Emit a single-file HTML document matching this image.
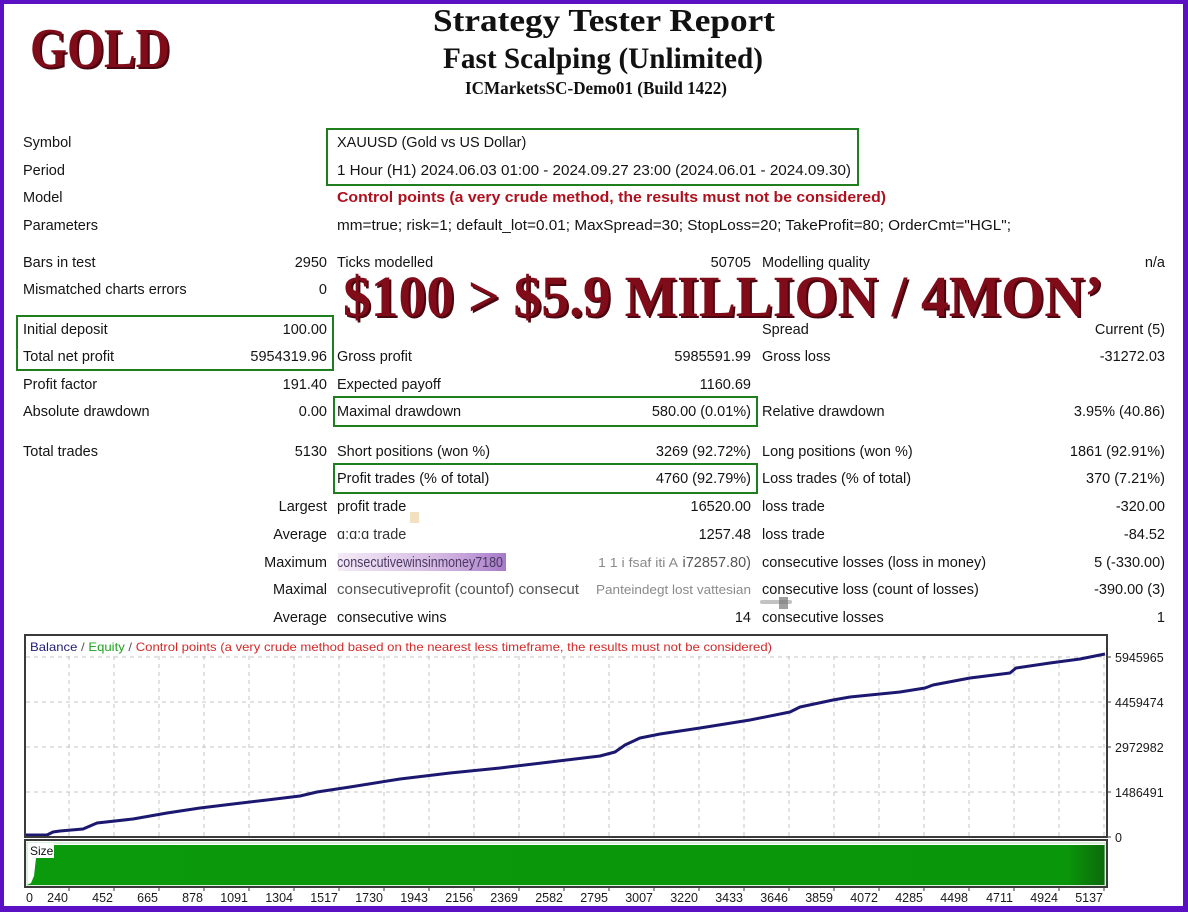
<!DOCTYPE html>
<html>
<head>
<meta charset="utf-8">
<style>
html,body{margin:0;padding:0;background:#fff;}
svg{display:block;}
.t{font-family:"Liberation Sans",Arial,sans-serif;font-size:14.5px;fill:#141414;}
.r{text-anchor:end;}
.ser{font-family:"Liberation Serif","Times New Roman",serif;font-weight:bold;}
.ax{font-family:"Liberation Sans",Arial,sans-serif;font-size:12.5px;fill:#1a1a1a;}
</style>
</head>
<body>
<svg width="1188" height="912" viewBox="0 0 1188 912" xmlns="http://www.w3.org/2000/svg">
<defs>
<linearGradient id="gr" x1="0" y1="0" x2="1" y2="0">
<stop offset="0" stop-color="#0b9a0b"/>
<stop offset="0.965" stop-color="#0a960a"/>
<stop offset="1" stop-color="#0b6a0b"/>
</linearGradient>
<linearGradient id="pg" x1="0" y1="0" x2="1" y2="0">
<stop offset="0" stop-color="#b070c8" stop-opacity="0.15"/>
<stop offset="0.6" stop-color="#a060c0" stop-opacity="0.45"/>
<stop offset="1" stop-color="#8040b0" stop-opacity="0.7"/>
</linearGradient>
</defs>
<rect x="0" y="0" width="1188" height="912" fill="#fff"/>

<!-- header -->
<text class="ser" x="433" y="31" font-size="32" fill="#111" textLength="342" lengthAdjust="spacingAndGlyphs">Strategy Tester Report</text>
<text class="ser" x="443" y="68" font-size="30" fill="#111" textLength="320" lengthAdjust="spacingAndGlyphs">Fast Scalping (Unlimited)</text>
<text class="ser" x="465" y="94" font-size="18" fill="#111" textLength="262" lengthAdjust="spacingAndGlyphs">ICMarketsSC-Demo01 (Build 1422)</text>

<!-- GOLD -->
<text class="ser" x="32" y="69" font-size="56" fill="#4a0610" textLength="140" lengthAdjust="spacingAndGlyphs">GOLD</text>
<text class="ser" x="30" y="67" font-size="56" fill="#7f0c18" textLength="140" lengthAdjust="spacingAndGlyphs">GOLD</text>

<!-- green boxes -->
<g fill="none" stroke="#1f7f1f" stroke-width="2">
<rect x="327" y="129" width="531" height="56"/>
<rect x="17" y="316" width="316" height="54"/>
<rect x="334" y="397" width="423" height="29"/>
<rect x="334" y="464" width="423" height="29"/>
</g>

<!-- rows -->
<text class="t" x="23" y="147">Symbol</text>
<text class="t" x="337" y="147">XAUUSD (Gold vs US Dollar)</text>
<text class="t" x="23" y="175">Period</text>
<text class="t" x="337" y="175" textLength="514" lengthAdjust="spacingAndGlyphs">1 Hour (H1) 2024.06.03 01:00 - 2024.09.27 23:00 (2024.06.01 - 2024.09.30)</text>
<text class="t" x="23" y="202">Model</text>
<text class="t" x="337" y="202" style="font-weight:bold;fill:#b0101e" textLength="549" lengthAdjust="spacingAndGlyphs">Control points (a very crude method, the results must not be considered)</text>
<text class="t" x="23" y="230">Parameters</text>
<text class="t" x="337" y="230" textLength="674" lengthAdjust="spacingAndGlyphs">mm=true; risk=1; default_lot=0.01; MaxSpread=30; StopLoss=20; TakeProfit=80; OrderCmt="HGL";</text>

<text class="t" x="23" y="267">Bars in test</text>
<text class="t r" x="327" y="267">2950</text>
<text class="t" x="337" y="267">Ticks modelled</text>
<text class="t r" x="751" y="267">50705</text>
<text class="t" x="762" y="267">Modelling quality</text>
<text class="t r" x="1165" y="267">n/a</text>

<text class="t" x="23" y="294">Mismatched charts errors</text>
<text class="t r" x="327" y="294">0</text>

<text class="t" x="23" y="334">Initial deposit</text>
<text class="t r" x="327" y="334">100.00</text>
<text class="t" x="762" y="334">Spread</text>
<text class="t r" x="1165" y="334">Current (5)</text>

<text class="t" x="23" y="361">Total net profit</text>
<text class="t r" x="327" y="361">5954319.96</text>
<text class="t" x="337" y="361">Gross profit</text>
<text class="t r" x="751" y="361">5985591.99</text>
<text class="t" x="762" y="361">Gross loss</text>
<text class="t r" x="1165" y="361">-31272.03</text>

<text class="t" x="23" y="389">Profit factor</text>
<text class="t r" x="327" y="389">191.40</text>
<text class="t" x="337" y="389">Expected payoff</text>
<text class="t r" x="751" y="389">1160.69</text>

<text class="t" x="23" y="416">Absolute drawdown</text>
<text class="t r" x="327" y="416">0.00</text>
<text class="t" x="337" y="416">Maximal drawdown</text>
<text class="t r" x="751" y="416">580.00 (0.01%)</text>
<text class="t" x="762" y="416">Relative drawdown</text>
<text class="t r" x="1165" y="416">3.95% (40.86)</text>

<text class="t" x="23" y="456">Total trades</text>
<text class="t r" x="327" y="456">5130</text>
<text class="t" x="337" y="456">Short positions (won %)</text>
<text class="t r" x="751" y="456">3269 (92.72%)</text>
<text class="t" x="762" y="456">Long positions (won %)</text>
<text class="t r" x="1165" y="456">1861 (92.91%)</text>

<text class="t" x="337" y="483">Profit trades (% of total)</text>
<text class="t r" x="751" y="483">4760 (92.79%)</text>
<text class="t" x="762" y="483">Loss trades (% of total)</text>
<text class="t r" x="1165" y="483">370 (7.21%)</text>

<text class="t r" x="327" y="511">Largest</text>
<text class="t" x="337" y="511">profit trade</text>
<text class="t r" x="751" y="511">16520.00</text>
<text class="t" x="762" y="511">loss trade</text>
<text class="t r" x="1165" y="511">-320.00</text>

<rect x="410" y="512" width="9" height="11" fill="#f0d8b0" opacity="0.8"/>
<text class="t r" x="327" y="539">Average</text>
<text class="t" x="337" y="539" style="fill:#333">ɑ:ɑ:ɑ trade</text>
<text class="t r" x="751" y="539">1257.48</text>
<text class="t" x="762" y="539">loss trade</text>
<text class="t r" x="1165" y="539">-84.52</text>

<rect x="338" y="553" width="168" height="18" fill="url(#pg)"/>
<text class="t r" x="327" y="567">Maximum</text>
<text class="t" x="337" y="567" style="fill:#4a3a62" textLength="166" lengthAdjust="spacingAndGlyphs">consecutivewinsinmoney7180</text>
<text class="t" x="598" y="567" style="fill:#8a8a8a;font-size:13px" textLength="80" lengthAdjust="spacingAndGlyphs">1 1 i fsaf iti A</text>
<text class="t r" x="751" y="567" style="fill:#555">i72857.80)</text>
<text class="t" x="762" y="567">consecutive losses (loss in money)</text>
<text class="t r" x="1165" y="567">5 (-330.00)</text>

<text class="t r" x="327" y="594">Maximal</text>
<text class="t" x="337" y="594" style="fill:#555" textLength="242" lengthAdjust="spacingAndGlyphs">consecutiveprofit (countof) consecut</text>
<text class="t" x="596" y="594" style="fill:#8a8a8a;font-size:13px" textLength="155" lengthAdjust="spacingAndGlyphs">Panteindegt lost vattesian</text>
<text class="t" x="762" y="594">consecutive loss (count of losses)</text>
<text class="t r" x="1165" y="594">-390.00 (3)</text>

<text class="t r" x="327" y="622">Average</text>
<text class="t" x="337" y="622">consecutive wins</text>
<rect x="760" y="600" width="32" height="4" rx="2" fill="#999" opacity="0.6"/>
<rect x="779" y="597" width="9" height="12" fill="#777" opacity="0.7"/>
<text class="t r" x="751" y="622">14</text>
<text class="t" x="762" y="622">consecutive losses</text>
<text class="t r" x="1165" y="622">1</text>

<!-- slogan -->
<text class="ser" x="345" y="318" font-size="58" fill="#4a0610" textLength="760" lengthAdjust="spacingAndGlyphs">$100 &gt; $5.9 MILLION / 4MON’</text>
<text class="ser" x="343" y="316" font-size="58" fill="#7f0c18" textLength="760" lengthAdjust="spacingAndGlyphs">$100 &gt; $5.9 MILLION / 4MON’</text>

<!-- chart -->
<g stroke="#c4c4c4" stroke-width="1" stroke-dasharray="4,4">
<line x1="26" y1="657" x2="1106" y2="657"/>
<line x1="26" y1="702" x2="1106" y2="702"/>
<line x1="26" y1="747" x2="1106" y2="747"/>
<line x1="26" y1="792" x2="1106" y2="792"/>
<line x1="69" y1="656" x2="69" y2="837"/><line x1="114" y1="656" x2="114" y2="837"/><line x1="159" y1="656" x2="159" y2="837"/><line x1="204" y1="656" x2="204" y2="837"/><line x1="249" y1="656" x2="249" y2="837"/><line x1="294" y1="656" x2="294" y2="837"/><line x1="339" y1="656" x2="339" y2="837"/><line x1="384" y1="656" x2="384" y2="837"/><line x1="429" y1="656" x2="429" y2="837"/><line x1="474" y1="656" x2="474" y2="837"/><line x1="519" y1="656" x2="519" y2="837"/><line x1="564" y1="656" x2="564" y2="837"/><line x1="609" y1="656" x2="609" y2="837"/><line x1="654" y1="656" x2="654" y2="837"/><line x1="699" y1="656" x2="699" y2="837"/><line x1="744" y1="656" x2="744" y2="837"/><line x1="789" y1="656" x2="789" y2="837"/><line x1="834" y1="656" x2="834" y2="837"/><line x1="879" y1="656" x2="879" y2="837"/><line x1="924" y1="656" x2="924" y2="837"/><line x1="969" y1="656" x2="969" y2="837"/><line x1="1014" y1="656" x2="1014" y2="837"/><line x1="1059" y1="656" x2="1059" y2="837"/><line x1="1104" y1="656" x2="1104" y2="837"/>
</g>

<text x="30" y="651" font-family="Liberation Sans, Arial, sans-serif" font-size="12" textLength="742" lengthAdjust="spacingAndGlyphs"><tspan fill="#1e1e78">Balance</tspan><tspan fill="#555"> / </tspan><tspan fill="#20a020">Equity</tspan><tspan fill="#555"> / </tspan><tspan fill="#d22a2a">Control points (a very crude method based on the nearest less timeframe, the results must not be considered)</tspan></text>

<polyline fill="none" stroke="#1c1870" stroke-width="3" stroke-linejoin="round" points="25,835 47,835 53,832 60,831 83,829 90,826 97,823 133,819 167,813 200,808 233,804 267,800 300,796 317,792 350,787 400,779 450,773 500,768 550,762 600,756 615,752 625,745 640,738 660,734 700,728 750,720 790,712 800,707 833,700 850,697 900,692 925,688 933,685 970,678 1010,673 1016,668 1050,663 1080,659 1090,657 1105,654"/>

<!-- frames -->
<rect x="25" y="635" width="1082" height="202" fill="none" stroke="#3a3a3a" stroke-width="2"/>
<polygon points="27,885 31,883 34,876 36,858 54,858 54,845 1105,845 1105,885" fill="url(#gr)"/>
<rect x="27" y="843" width="1078" height="43" fill="none" stroke="#b8dcb8" stroke-width="1"/>
<rect x="28" y="843" width="26" height="15" fill="#fff"/>
<text x="30" y="855" font-family="Liberation Sans, Arial, sans-serif" font-size="12" fill="#111">Size</text>
<rect x="25" y="840" width="1082" height="47" fill="none" stroke="#3a3a3a" stroke-width="2"/>

<!-- y ticks & labels -->
<g stroke="#3a3a3a" stroke-width="1">
<line x1="1107" y1="657" x2="1111" y2="657"/><line x1="1107" y1="702" x2="1111" y2="702"/><line x1="1107" y1="747" x2="1111" y2="747"/><line x1="1107" y1="792" x2="1111" y2="792"/><line x1="1107" y1="837" x2="1111" y2="837"/>
</g>
<text class="ax" x="1115" y="662">5945965</text>
<text class="ax" x="1115" y="707">4459474</text>
<text class="ax" x="1115" y="752">2972982</text>
<text class="ax" x="1115" y="797">1486491</text>
<text class="ax" x="1115" y="842">0</text>

<!-- x ticks & labels -->
<g stroke="#3a3a3a" stroke-width="1">
<line x1="69" y1="887" x2="69" y2="891"/><line x1="114" y1="887" x2="114" y2="891"/><line x1="159" y1="887" x2="159" y2="891"/><line x1="204" y1="887" x2="204" y2="891"/><line x1="249" y1="887" x2="249" y2="891"/><line x1="294" y1="887" x2="294" y2="891"/><line x1="339" y1="887" x2="339" y2="891"/><line x1="384" y1="887" x2="384" y2="891"/><line x1="429" y1="887" x2="429" y2="891"/><line x1="474" y1="887" x2="474" y2="891"/><line x1="519" y1="887" x2="519" y2="891"/><line x1="564" y1="887" x2="564" y2="891"/><line x1="609" y1="887" x2="609" y2="891"/><line x1="654" y1="887" x2="654" y2="891"/><line x1="699" y1="887" x2="699" y2="891"/><line x1="744" y1="887" x2="744" y2="891"/><line x1="789" y1="887" x2="789" y2="891"/><line x1="834" y1="887" x2="834" y2="891"/><line x1="879" y1="887" x2="879" y2="891"/><line x1="924" y1="887" x2="924" y2="891"/><line x1="969" y1="887" x2="969" y2="891"/><line x1="1014" y1="887" x2="1014" y2="891"/><line x1="1059" y1="887" x2="1059" y2="891"/><line x1="1104" y1="887" x2="1104" y2="891"/>
</g>
<g class="ax" text-anchor="end">
<text x="33" y="902">0</text>
<text x="68" y="902">240</text><text x="113" y="902">452</text><text x="158" y="902">665</text><text x="203" y="902">878</text><text x="248" y="902">1091</text><text x="293" y="902">1304</text><text x="338" y="902">1517</text><text x="383" y="902">1730</text><text x="428" y="902">1943</text><text x="473" y="902">2156</text><text x="518" y="902">2369</text><text x="563" y="902">2582</text><text x="608" y="902">2795</text><text x="653" y="902">3007</text><text x="698" y="902">3220</text><text x="743" y="902">3433</text><text x="788" y="902">3646</text><text x="833" y="902">3859</text><text x="878" y="902">4072</text><text x="923" y="902">4285</text><text x="968" y="902">4498</text><text x="1013" y="902">4711</text><text x="1058" y="902">4924</text><text x="1103" y="902">5137</text>
</g>

<!-- purple border -->
<rect x="0" y="0" width="1188" height="4" fill="#5c10c4"/>
<rect x="0" y="906" width="1188" height="6" fill="#5c10c4"/>
<rect x="0" y="0" width="4" height="912" fill="#5c10c4"/>
<rect x="1183" y="0" width="5" height="912" fill="#5c10c4"/>
</svg>
</body>
</html>
